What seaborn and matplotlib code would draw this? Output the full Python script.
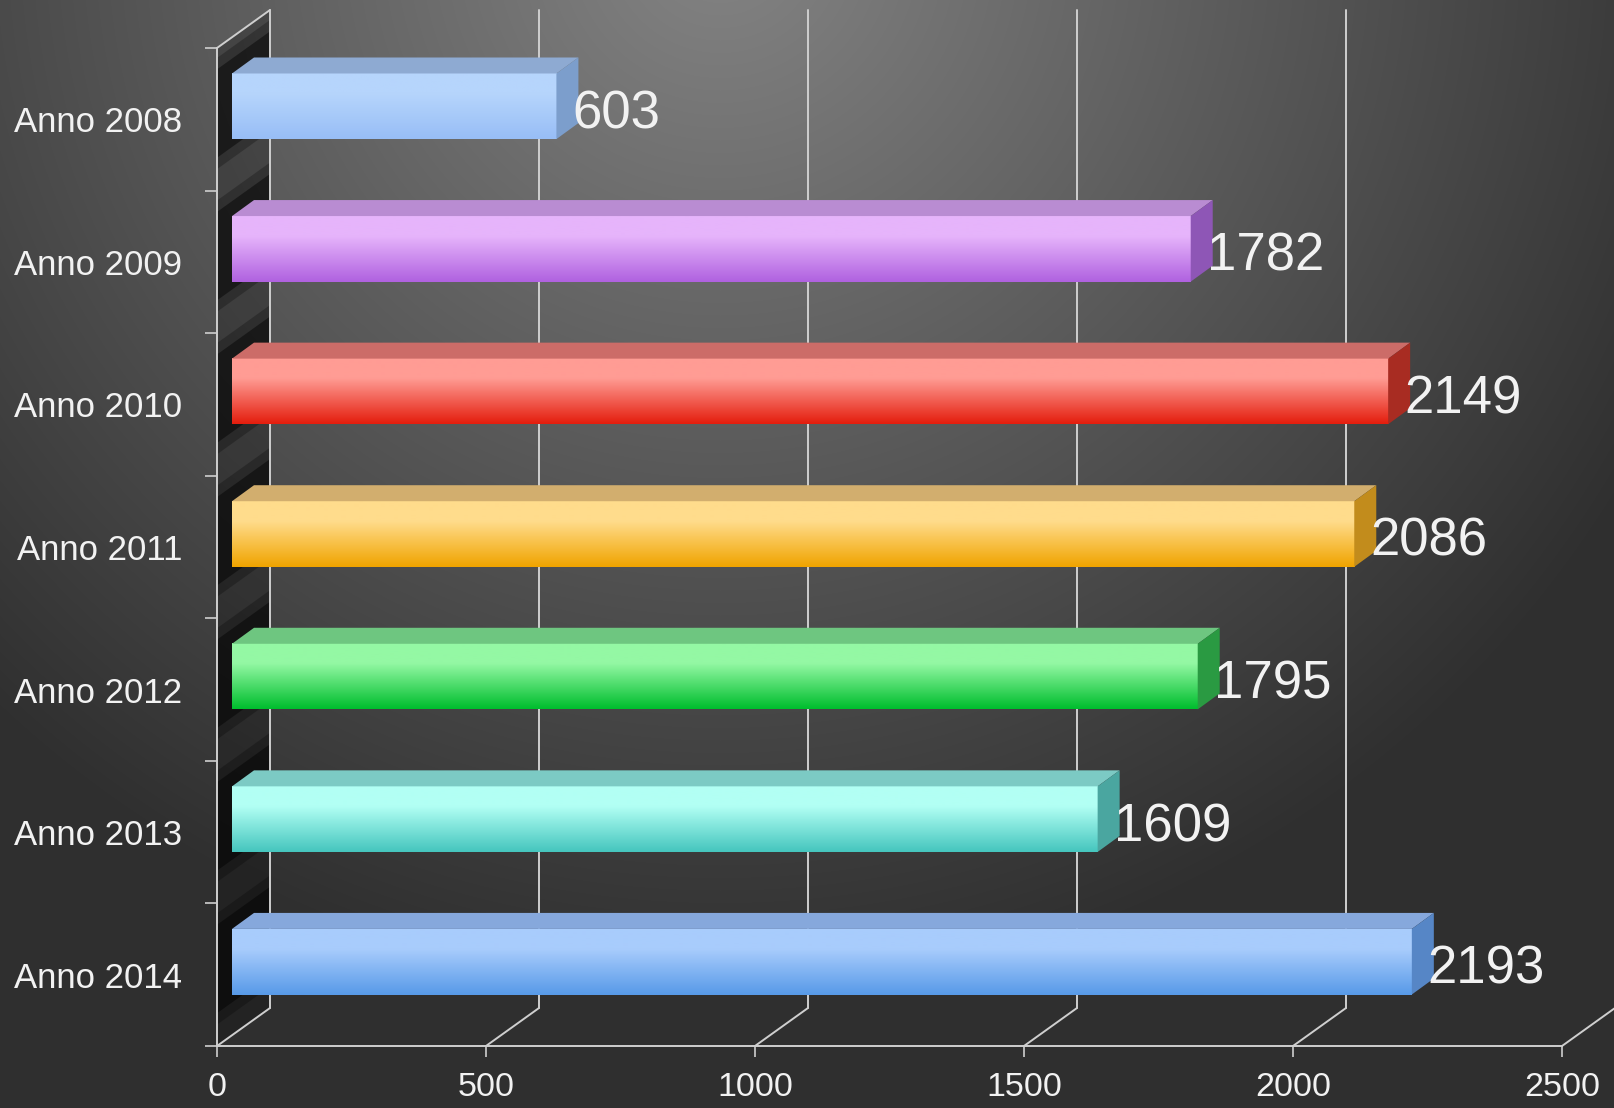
import numpy as np
import pandas as pd
import matplotlib
matplotlib.use('Agg')
import matplotlib.pyplot as plt
import matplotlib.transforms as mtransforms
from matplotlib.colors import LinearSegmentedColormap
from matplotlib.patches import Polygon
import seaborn as sns

# Data
ANNI = ['Anno 2008', 'Anno 2009', 'Anno 2010', 'Anno 2011', 'Anno 2012', 'Anno 2013', 'Anno 2014']
VALORI = [603, 1782, 2149, 2086, 1795, 1609, 2193]
X_TICKS = [0, 500, 1000, 1500, 2000, 2500]

# Bar colours: front top, front bottom, top face, side face
COL_TOP = ['#b6d5fc', '#e6b4fb', '#ff9c94', '#ffdc8c', '#94f8a4', '#b2fff4', '#a8ccfc']
COL_BOT = ['#98bef6', '#b062e0', '#e41e0e', '#f0a400', '#00be2e', '#46c6be', '#589ae8']
COL_LID = ['#8eaad2', '#b98cd2', '#cc6c68', '#d2ae6e', '#6ec680', '#7ccac4', '#86a8dc']
COL_SIDE = ['#7c9ecc', '#8e56b6', '#a82c22', '#c28c1c', '#2a9a42', '#4aa6a0', '#5686c6']

W, H, DPI = 1615, 1108, 100
BACK = (53, 38)      # depth of the chart box, pixels
FRONT = (15, 13)     # bar front face offset
REAR = (37, 29)      # bar rear face offset
LINE = '#cfcfcf'
TXT = '#f2f2f2'

sns.set_style('dark')
plt.rcParams['font.family'] = ['Liberation Sans', 'DejaVu Sans']

fig = plt.figure(figsize=(W / DPI, H / DPI), dpi=DPI)

# background gradient
bg = fig.add_axes([0, 0, 1, 1])
yy, xx = np.mgrid[0:H, 0:W]
dist = np.sqrt((xx - 720) ** 2 + ((yy + 60) * 1.0) ** 2)
v = np.clip(132 - 0.08 * dist, 47, 255) / 255.0
bg.imshow(np.dstack([v, v, v]), aspect='auto', extent=(0, 1, 0, 1), origin='upper')
bg.set_axis_off()

# main axes = front plane of the box
x0, x1, ytop, ybot = 217, 1562, 48, 1046
ax = fig.add_axes([x0 / W, (H - ybot) / H, (x1 - x0) / W, (ybot - ytop) / H])
ax.set_facecolor('none')

df = pd.DataFrame({'anno': ANNI, 'valore': VALORI})
sns.barplot(data=df, x='valore', y='anno', hue='anno', palette=COL_BOT, legend=False,
            width=0.46, linewidth=0, orient='h', ax=ax, zorder=5)
ax.set_xlim(0, 2500)
ax.set_ylim(6.5, -0.5)


def off(p):
    return ax.transData + mtransforms.ScaledTranslation(p[0] / DPI, p[1] / DPI, fig.dpi_scale_trans)


def P(x, y, o):
    X, Y = ax.transData.transform((x, y))
    return (X + o[0], Y + o[1])


ident = mtransforms.IdentityTransform()

# left wall
wall = [P(0, 6.5, (0, 0)), P(0, -0.5, (0, 0)), P(0, -0.5, BACK), P(0, 6.5, BACK)]
ax.add_patch(Polygon(wall, closed=True, transform=ident, facecolor='black', alpha=0.25,
                     edgecolor='none', clip_on=False, zorder=1))

# back gridlines, floor diagonals and box edges
for t in X_TICKS:
    a, b = P(t, 6.5, BACK), P(t, -0.5, BACK)
    ax.plot([a[0], b[0]], [a[1], b[1]], color=LINE, lw=1.4, transform=ident, clip_on=False, zorder=2)
    c = P(t, 6.5, (0, 0))
    ax.plot([c[0], a[0]], [c[1], a[1]], color=LINE, lw=1.4, transform=ident, clip_on=False, zorder=2)
a, b = P(0, -0.5, (0, 0)), P(0, -0.5, BACK)
ax.plot([a[0], b[0]], [a[1], b[1]], color=LINE, lw=1.4, transform=ident, clip_on=False, zorder=2)

# bars in pseudo 3D
for patch in ax.patches[:]:
    if not hasattr(patch, 'get_width'):
        continue
    yc = patch.get_y() + patch.get_height() / 2
    i = int(round(yc))
    val = patch.get_width()
    yt, yb = patch.get_y(), patch.get_y() + patch.get_height()

    # shadow on the wall
    for ext, al in [(0.12, 0.25), (0.04, 0.45)]:
        sh = [P(0, yb + ext, (0, 0)), P(0, yt - ext - 0.08, (0, 0)),
              P(0, yt - ext - 0.08, BACK), P(0, yb + ext, BACK)]
        ax.add_patch(Polygon(sh, closed=True, transform=ident, facecolor='black', alpha=al,
                             edgecolor='none', clip_on=False, zorder=1.5))

    patch.set_transform(off(FRONT))
    patch.set_clip_on(False)

    cmap = LinearSegmentedColormap.from_list('g', [(0, COL_TOP[i]), (0.3, COL_TOP[i]), (1, COL_BOT[i])])
    grad = np.linspace(0, 1, 64).reshape(-1, 1)
    im = ax.imshow(grad, cmap=cmap, aspect='auto', origin='upper', interpolation='bilinear',
                   extent=(0, val, yb, yt), zorder=6)
    im.set_transform(off(FRONT))
    im.set_clip_on(False)

    lid = [P(0, yt, FRONT), P(val, yt, FRONT), P(val, yt, REAR), P(0, yt, REAR)]
    ax.add_patch(Polygon(lid, closed=True, transform=ident, facecolor=COL_LID[i],
                         edgecolor='none', clip_on=False, zorder=6))
    side = [P(val, yb, FRONT), P(val, yt, FRONT), P(val, yt, REAR), P(val, yb, REAR)]
    ax.add_patch(Polygon(side, closed=True, transform=ident, facecolor=COL_SIDE[i],
                         edgecolor='none', clip_on=False, zorder=6))

ax.set_xlim(0, 2500)
ax.set_ylim(6.5, -0.5)

# value labels
for i, val in enumerate(VALORI):
    ax.text(val, i, f'{val}', transform=off((31, -9)), ha='left', va='baseline',
            fontsize=38, color=TXT, zorder=8, clip_on=False)

# axes styling
for s in ['top', 'right']:
    ax.spines[s].set_visible(False)
for s in ['left', 'bottom']:
    ax.spines[s].set_color(LINE)
    ax.spines[s].set_linewidth(1.4)
    ax.spines[s].set_zorder(3)
ax.grid(False)
ax.set_xlabel('')
ax.set_ylabel('')
ax.set_xticks(X_TICKS)
ax.set_xticklabels([str(t) for t in X_TICKS])
ax.set_yticks(range(len(ANNI)))
ax.set_yticklabels(ANNI)
ax.set_yticks(np.arange(-0.5, len(ANNI), 1.0), minor=True)
ax.tick_params(axis='y', which='major', length=0, pad=25, labelsize=25, labelcolor=TXT)
ax.tick_params(axis='y', which='minor', length=8.5, width=1.2, color=LINE, left=True)
ax.tick_params(axis='x', length=8, width=1.2, color=LINE, pad=11, labelsize=24.5,
               labelcolor=TXT, bottom=True)

fig.savefig('out.png', dpi=DPI)
